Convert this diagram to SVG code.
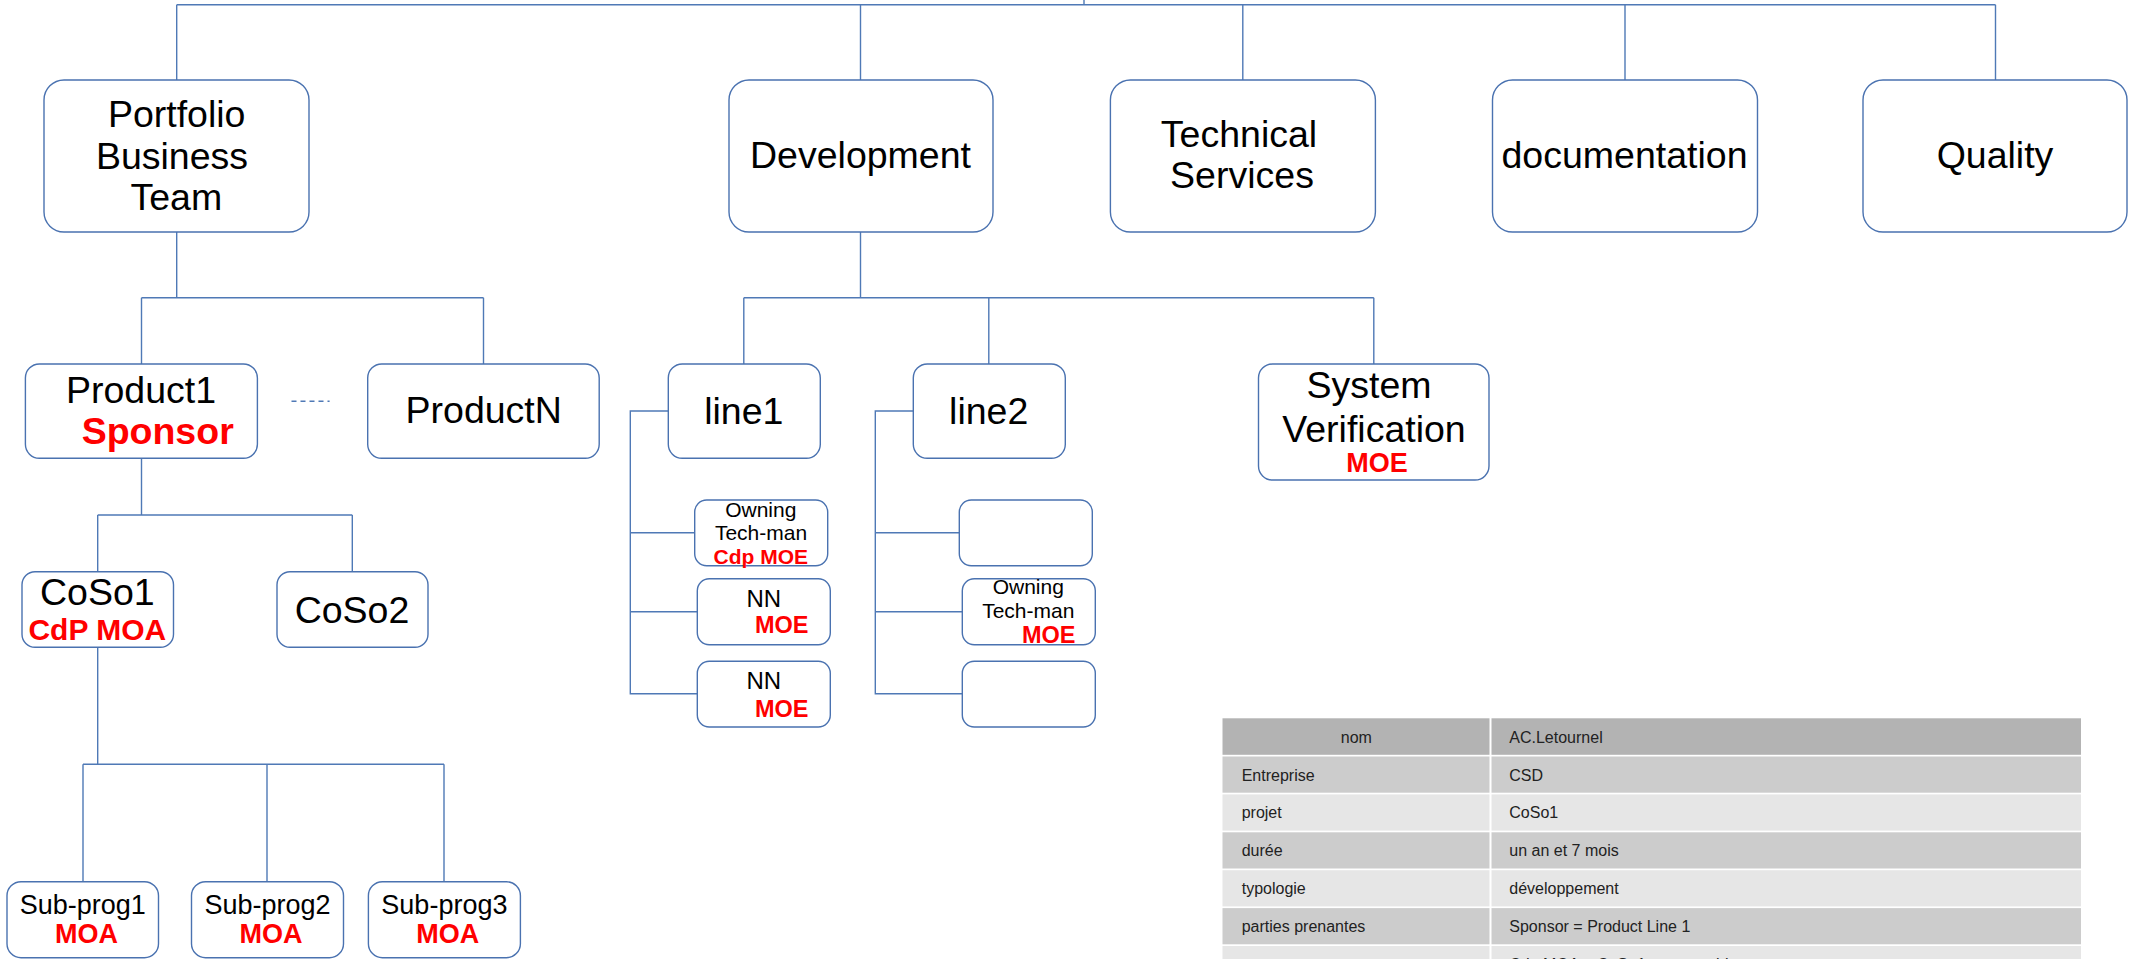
<svg xmlns="http://www.w3.org/2000/svg" width="2134" height="959" viewBox="0 0 2134 959">
<style>
.box{fill:#fff;stroke:#4a72b0;stroke-width:1.4}
.c{fill:none;stroke:#4f79b6;stroke-width:1.4}
text{font-family:"Liberation Sans",Arial,sans-serif;fill:#000}
.t{font-size:37.5px;text-anchor:middle}
.m{text-anchor:middle}
.r{fill:#ff0000;font-weight:bold}
.tb{font-size:16px;fill:#222}
</style>
<rect width="2134" height="959" fill="#fff"/>
<g id="connectors">
<path class="c" d="M1084,0V4.7M176.7,4.7H1995.5M176.7,4.7V80M860.5,4.7V80M1242.8,4.7V80M1625,4.7V80M1995.5,4.7V80"/>
<path class="c" d="M176.7,232V297.7M141.5,297.7H483.5M141.5,297.7V364M483.5,297.7V364"/>
<path class="c" d="M860.5,232V297.7M743.8,297.7H1373.8M743.8,297.7V364M988.8,297.7V364M1373.8,297.7V364"/>
<path class="c" d="M141.5,458.3V515M97.7,515H352.3M97.7,515V571.7M352.3,515V571.7"/>
<path class="c" d="M97.7,647.3V764.3M83,764.3H444M83,764.3V881.7M267,764.3V881.7M444,764.3V881.7"/>
<path class="c" d="M668.3,411H630.3V693.7H697.3M630.3,532.7H694.7M630.3,611.7H697.3"/>
<path class="c" d="M913.3,411H875.3V693.7H962.3M875.3,532.7H959.3M875.3,611.7H962.3"/>
<path class="c" d="M291.5,401.3H329.6" stroke="#7f9cc8" stroke-dasharray="5,4"/>
</g>
<g id="portfolio"><rect class="box" x="44" y="80" width="265" height="152" rx="20"/>
<text class="t" x="176.7" y="126.7">Portfolio</text><text class="t" x="172" y="169">Business</text><text class="t" x="176.3" y="210">Team</text></g>
<g id="development"><rect class="box" x="729" y="80" width="264" height="152" rx="20"/>
<text class="t" x="860.5" y="168.3">Development</text></g>
<g id="technical"><rect class="box" x="1110.4" y="80" width="265" height="152" rx="20"/>
<text class="t" x="1239" y="146.7">Technical</text><text class="t" x="1242" y="188.3">Services</text></g>
<g id="documentation"><rect class="box" x="1492.5" y="80" width="265" height="152" rx="20"/>
<text class="t" x="1624.5" y="168.3">documentation</text></g>
<g id="quality"><rect class="box" x="1863" y="80" width="264" height="152" rx="20"/>
<text class="t" x="1995" y="168.3">Quality</text></g>
<g id="product1"><rect class="box" x="25.4" y="364" width="232" height="94.3" rx="14"/>
<text class="t" x="141" y="402.7">Product1</text><text class="t r" x="157.7" y="444.3">Sponsor</text></g>
<g id="productN"><rect class="box" x="367.7" y="364" width="231.5" height="94.3" rx="14"/>
<text class="t" x="483.7" y="423.3">ProductN</text></g>
<g id="line1"><rect class="box" x="668.3" y="364" width="152" height="94.3" rx="14"/>
<text class="t" x="743.8" y="424">line1</text></g>
<g id="line2"><rect class="box" x="913.3" y="364" width="152" height="94.3" rx="14"/>
<text class="t" x="988.7" y="424">line2</text></g>
<g id="sysver"><rect class="box" x="1258.5" y="364" width="230.5" height="116" rx="14"/>
<text class="t" x="1369" y="397.7">System</text><text class="t" x="1374" y="441.7">Verification</text><text class="m r" font-size="27" x="1377" y="472.3">MOE</text></g>
<g id="coso1"><rect class="box" x="22" y="571.7" width="151.5" height="75.6" rx="13"/>
<text class="t" x="97.3" y="605">CoSo1</text><text class="m r" font-size="30" x="97.3" y="640">CdP MOA</text></g>
<g id="coso2"><rect class="box" x="277" y="571.7" width="151" height="75.6" rx="13"/>
<text class="t" x="352" y="622.7">CoSo2</text></g>
<g id="l1c1"><rect class="box" x="694.7" y="500" width="133" height="65.7" rx="12"/>
<text class="m" font-size="21" x="760.8" y="516.7">Owning</text><text class="m" font-size="21" x="761" y="540">Tech-man</text><text class="m r" font-size="21" x="760.8" y="564.3">Cdp MOE</text></g>
<g id="l1c2"><rect class="box" x="697.3" y="578.7" width="133" height="66" rx="12"/>
<text class="m" font-size="24" x="763.8" y="606.7">NN</text><text class="r" font-size="23.5" x="755" y="633.3">MOE</text></g>
<g id="l1c3"><rect class="box" x="697.3" y="661.3" width="133" height="65.7" rx="12"/>
<text class="m" font-size="24" x="763.8" y="689.3">NN</text><text class="r" font-size="23.5" x="755" y="716.7">MOE</text></g>
<g id="l2c1"><rect class="box" x="959.3" y="500" width="133" height="65.7" rx="12"/></g>
<g id="l2c2"><rect class="box" x="962.3" y="578.7" width="133" height="66" rx="12"/>
<text class="m" font-size="21" x="1028.3" y="594.3">Owning</text><text class="m" font-size="21" x="1028.3" y="617.7">Tech-man</text><text class="r" font-size="23.5" x="1022" y="643.3">MOE</text></g>
<g id="l2c3"><rect class="box" x="962.3" y="661.3" width="133" height="65.7" rx="12"/></g>
<g id="sub1"><rect class="box" x="7" y="881.7" width="151.5" height="76" rx="14"/>
<text class="m" font-size="27" x="82.7" y="914">Sub-prog1</text><text class="m r" font-size="27" x="86.4" y="943.3">MOA</text></g>
<g id="sub2"><rect class="box" x="191.5" y="881.7" width="152" height="76" rx="14"/>
<text class="m" font-size="27" x="267.5" y="914">Sub-prog2</text><text class="m r" font-size="27" x="270.9" y="943.3">MOA</text></g>
<g id="sub3"><rect class="box" x="368.4" y="881.7" width="152" height="76" rx="14"/>
<text class="m" font-size="27" x="444.4" y="914">Sub-prog3</text><text class="m r" font-size="27" x="447.8" y="943.3">MOA</text></g>
<g id="table">
<rect x="1222.5" y="718.3" width="858.5" height="36.5" fill="#b3b3b3"/>
<rect x="1222.5" y="756.5" width="858.5" height="36.2" fill="#cccccc"/>
<rect x="1222.5" y="794.4" width="858.5" height="36.2" fill="#e6e6e6"/>
<rect x="1222.5" y="832.3" width="858.5" height="36.2" fill="#cccccc"/>
<rect x="1222.5" y="870.2" width="858.5" height="36.2" fill="#e6e6e6"/>
<rect x="1222.5" y="908.1" width="858.5" height="36.2" fill="#cccccc"/>
<rect x="1222.5" y="946" width="858.5" height="36.2" fill="#e6e6e6"/>
<rect x="1489.5" y="718" width="2" height="241" fill="#fff"/>
<text class="tb" x="1356.3" y="742.7" text-anchor="middle">nom</text><text class="tb" x="1509.3" y="742.7">AC.Letournel</text>
<text class="tb" x="1241.7" y="780.5">Entreprise</text><text class="tb" x="1509.3" y="780.5">CSD</text>
<text class="tb" x="1241.7" y="818.4">projet</text><text class="tb" x="1509.3" y="818.4">CoSo1</text>
<text class="tb" x="1241.7" y="856.3">durée</text><text class="tb" x="1509.3" y="856.3">un an et 7 mois</text>
<text class="tb" x="1241.7" y="894.2">typologie</text><text class="tb" x="1509.3" y="894.2">développement</text>
<text class="tb" x="1241.7" y="932.1">parties prenantes</text><text class="tb" x="1509.3" y="932.1">Sponsor = Product Line 1</text>
<text class="tb" x="1509.3" y="970">Cdp MOA = CoSo1 responsable</text>
</g>
</svg>
